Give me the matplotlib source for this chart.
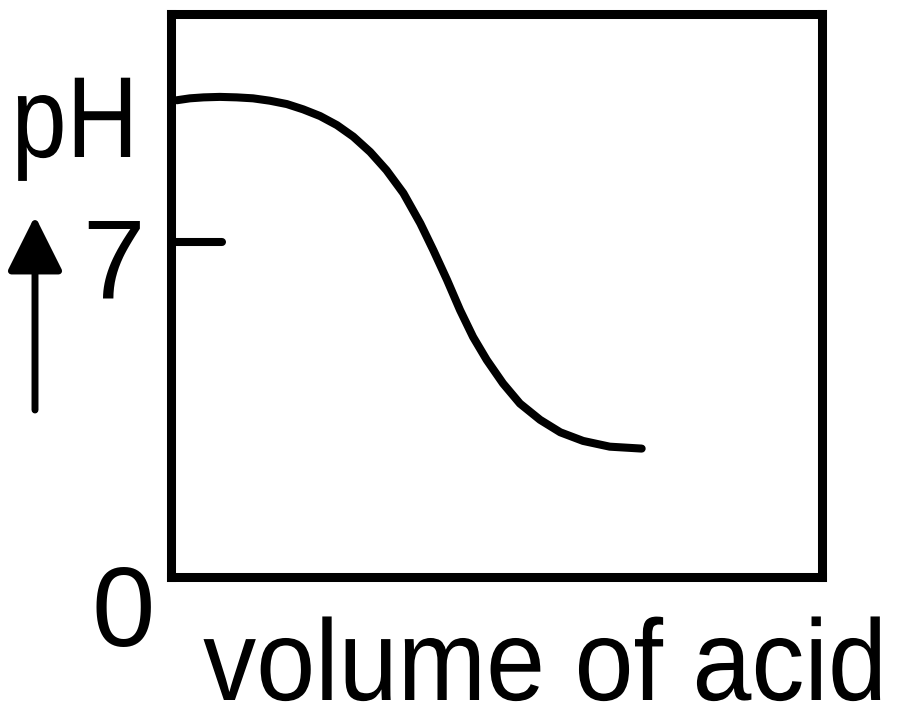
import matplotlib
matplotlib.use("Agg")
import matplotlib.pyplot as plt
from matplotlib.patches import FancyArrowPatch
from matplotlib.patheffects import AbstractPathEffect
from matplotlib.transforms import Affine2D

plt.rcParams['font.family'] = ['Liberation Sans', 'DejaVu Sans']

# Data (volume in arbitrary units, pH)
volume = [0.09, 0.29, 0.50, 0.75, 1.01, 1.26, 1.52, 1.78, 2.03, 2.29, 2.55,
          2.80, 3.06, 3.31, 3.57, 3.83, 4.03, 4.24, 4.44, 4.64, 4.85, 5.10,
          5.36, 5.67, 5.98, 6.33, 6.74, 7.23]
ph = [9.95, 9.99, 10.01, 10.02, 10.01, 9.99, 9.94, 9.87, 9.76, 9.62, 9.43,
      9.19, 8.87, 8.49, 8.01, 7.38, 6.82, 6.20, 5.57, 5.01, 4.53, 4.04,
      3.62, 3.28, 3.02, 2.84, 2.72, 2.68]
tick_value = 7
tick_labels = ["7", "0"]
y_label = "pH"
x_label = "volume of acid"

W, H = 900, 714
fig = plt.figure(figsize=(W / 100, H / 100), dpi=100)
ax = fig.add_axes([171 / W, 1 - 577 / H, (822 - 171) / W, (577 - 14) / H])
ax.set_xlim(0, 10)
ax.set_ylim(0, 11.75)
ax.set_xticks([])
ax.set_yticks([])
for s in ax.spines.values():
    s.set_linewidth(6.5)
    s.set_color('black')
    s.set_capstyle('projecting')

ax.plot(volume, ph, color='black', lw=5.8, solid_capstyle='round',
        solid_joinstyle='round')
ax.plot([0, 0.78], [tick_value, tick_value], color='black', lw=5.8,
        solid_capstyle='round', clip_on=False)


class HStretch(AbstractPathEffect):
    """Horizontally condense text glyphs about a display x position."""
    def __init__(self, sx, x0):
        super().__init__()
        self.sx = sx
        self.x0 = x0

    def draw_path(self, renderer, gc, tpath, affine, rgbFace=None):
        t = affine + Affine2D().translate(-self.x0, 0).scale(self.sx, 1).translate(self.x0, 0)
        renderer.draw_path(gc, tpath, t, rgbFace)


def fx(px):
    return px / W

def fy(py):
    return 1 - py / H

fig.text(fx(11.5), fy(157), y_label, fontsize=83, ha='left', va='baseline',
         path_effects=[HStretch(0.86, 11.5)])
fig.text(fx(113), fy(298), tick_labels[0], fontsize=81, ha='center', va='baseline')
fig.text(fx(123), fy(646), tick_labels[1], fontsize=82, ha='center', va='baseline')
fig.text(fx(545), fy(700), x_label, fontsize=83, ha='center', va='baseline',
         path_effects=[HStretch(0.92, 545)])

arrow = FancyArrowPatch((35, H - 410), (35, H - 216), transform=None,
                        arrowstyle='-|>,head_length=34,head_width=17',
                        mutation_scale=1, lw=5, color='black',
                        shrinkA=0, shrinkB=0)
fig.patches.append(arrow)

fig.savefig("out.png", dpi=100, facecolor='white')
